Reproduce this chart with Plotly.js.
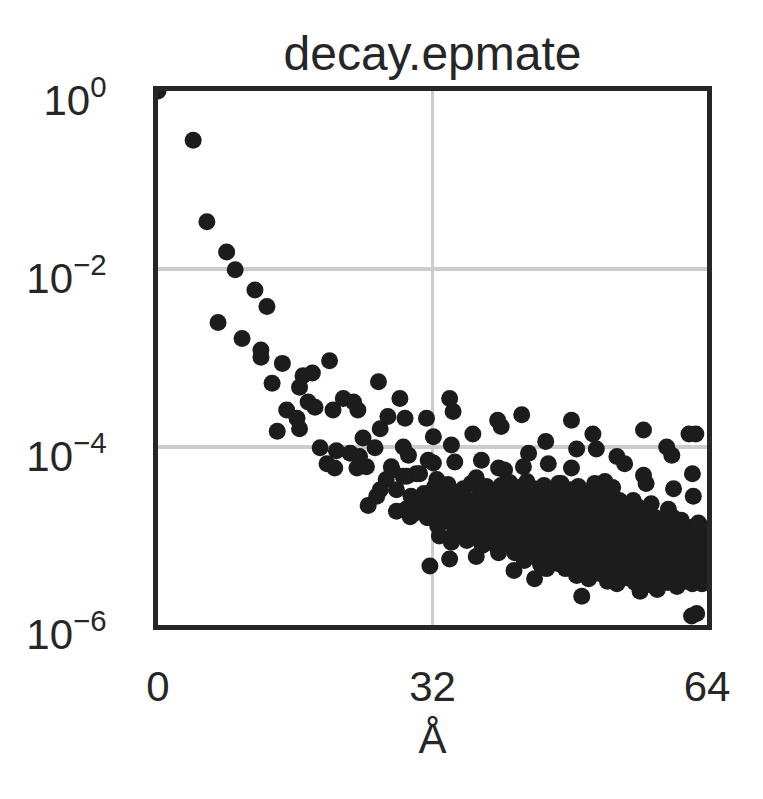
<!DOCTYPE html>
<html><head><meta charset="utf-8">
<script src="https://cdn.plot.ly/plotly-3.0.1.min.js"></script>
<style>html,body{margin:0;padding:0;background:#fff}#chart{width:763px;height:799px}</style>
</head><body><div id="chart"></div>
<script>
// Sparse / upper points: distance (Å) and decay value
const headDist = [
 0, 4.1, 5.7, 8.0, 9.0, 11.3, 12.7, 7.0, 9.8, 12.0,
 12.0, 14.5, 20.0, 13.3, 16.9, 18.0, 16.5, 17.5, 18.3, 15.0,
 16.2, 16.5, 13.9, 20.4, 21.6, 22.8, 23.3, 25.7, 28.2, 26.8,
 25.9, 28.8, 31.3, 34.0, 34.4, 32.1, 34.2, 36.7, 18.9, 20.8,
 22.4, 23.5, 23.9, 25.3, 19.7, 20.6, 23.2, 24.3, 28.6, 29.2,
 31.5, 27.2, 26.6, 25.9, 25.5, 30.1, 29.0, 32.5, 34.6, 37.1,
 34.2, 24.5, 27.8, 39.6, 40.0, 42.4, 48.2, 45.2, 50.7, 51.1,
 48.8, 43.2, 42.6, 53.5, 37.7, 39.7, 40.4, 45.5, 48.2, 46.7,
 50.9, 52.1, 53.5, 56.6, 61.9, 62.7, 54.4, 59.3, 59.9, 56.6,
 56.9, 62.3, 60.1, 62.4, 53.8, 55.4, 57.5, 59.5, 60.1, 62.4,
 31.7, 34.0, 37.1, 41.5, 43.9, 49.4, 39.7, 56.2, 62.8, 62.2,
 27.3, 27.8, 28.6, 30.5, 32.1, 29.4, 30.5, 31.7
];
const headDecay = [
 1.0, 0.28, 0.034, 0.0155, 0.0098, 0.0058, 0.0038, 0.0025, 0.00166, 0.00123,
 0.00102, 8.7e-4, 9.3e-4, 5.2e-4, 6.3e-4, 6.8e-4, 4.7e-4, 3.2e-4, 2.8e-4, 2.6e-4,
 2.1e-4, 1.6e-4, 1.5e-4, 2.6e-4, 3.5e-4, 3.2e-4, 2.6e-4, 5.4e-4, 3.5e-4, 2.2e-4,
 1.6e-4, 2.1e-4, 2.1e-4, 3.5e-4, 2.5e-4, 1.3e-4, 1.05e-4, 1.4e-4, 9.8e-5, 9.1e-5,
 8.5e-5, 7.8e-5, 1.26e-4, 9.8e-5, 6.5e-5, 5.8e-5, 5.8e-5, 6.0e-5, 1.0e-4, 8.1e-5,
 7.1e-5, 6.0e-5, 4.3e-5, 3.3e-5, 2.8e-5, 5.0e-5, 4.7e-5, 4.3e-5, 6.8e-5, 4.5e-5,
 3.0e-5, 2.2e-5, 1.9e-5, 2.0e-4, 1.7e-4, 2.3e-4, 2.0e-4, 1.15e-4, 1.4e-4, 9.5e-5,
 9.5e-5, 8.5e-5, 6.0e-5, 7.8e-5, 7.1e-5, 5.8e-5, 5.5e-5, 6.5e-5, 5.8e-5, 3.9e-5,
 3.9e-5, 4.1e-5, 2.4e-5, 1.55e-4, 1.4e-4, 1.4e-4, 6.5e-5, 1.0e-4, 8.1e-5, 4.8e-5,
 3.9e-5, 5.0e-5, 3.4e-5, 2.8e-5, 2.5e-5, 2.5e-5, 2.3e-5, 2.0e-5, 1.6e-5, 1.26e-5,
 4.6e-6, 5.5e-6, 5.9e-6, 4.1e-6, 3.3e-6, 2.1e-6, 6.5e-6, 2.4e-6, 1.35e-6, 1.26e-6,
 5.5e-5, 3.3e-5, 4.7e-5, 5.0e-5, 6.6e-5, 1.65e-5, 2.5e-5, 1.8e-5
];
// Dense tail points
const tailDist = [
 28.9, 29.9, 30.8, 31.4, 29.5, 31.0,
 32.2, 32.4, 32.3, 32.6, 32.8, 33.0, 33.1, 33.3,
 33.8, 34.0, 34.1, 34.3, 34.5, 34.2, 34.7, 34.9, 35.0, 35.2,
 35.6, 35.8, 35.9, 36.0, 36.2, 36.0, 36.5, 36.6, 36.8, 36.9, 37.0,
 37.5, 37.7, 37.6, 37.9, 38.0, 37.8, 38.3, 38.5, 38.4, 38.7, 38.6,
 39.1, 39.2, 39.4, 39.3, 39.6, 39.5, 40.0, 40.1, 40.3, 40.2, 40.5, 40.4,
 41.0, 41.1, 41.3, 41.2, 41.5, 41.4, 41.6, 42.0, 42.2, 42.1, 42.4, 42.3, 42.5, 42.7,
 43.0, 43.1, 43.3, 43.2, 43.5, 43.4, 43.6, 43.9, 44.1, 44.0, 44.3, 44.2, 44.4, 44.6,
 45.0, 45.1, 45.3, 45.2, 45.5, 45.4, 45.6, 45.3, 46.0, 46.2, 46.1, 46.3, 46.5, 46.4, 46.6,
 47.0, 47.1, 47.3, 47.2, 47.5, 47.4, 47.6, 47.5, 48.0, 48.2, 48.1, 48.3, 48.5, 48.4, 48.6, 48.8,
 49.0, 49.2, 49.1, 49.3, 49.5, 49.4, 49.6, 49.7, 50.0, 50.2, 50.1, 50.4, 50.3, 50.5, 50.6, 50.2,
 51.0, 51.2, 51.1, 51.3, 51.5, 51.4, 51.6, 51.5, 52.0, 52.2, 52.1, 52.4, 52.3, 52.5, 52.6, 52.4,
 53.0, 53.2, 53.1, 53.3, 53.5, 53.4, 53.6, 53.5, 54.0, 54.2, 54.1, 54.4, 54.3, 54.5, 54.6,
 55.0, 55.2, 55.1, 55.3, 55.5, 55.4, 55.6, 56.0, 56.2, 56.1, 56.4, 56.3, 56.5, 56.6,
 57.0, 57.2, 57.1, 57.3, 57.5, 57.4, 57.6, 58.0, 58.2, 58.1, 58.4, 58.3, 58.5, 58.2,
 59.0, 59.2, 59.1, 59.3, 59.5, 59.4, 60.0, 60.2, 60.1, 60.4, 60.3, 60.5,
 61.0, 61.2, 61.1, 61.3, 61.5, 61.4, 62.0, 62.2, 62.1, 62.4, 62.3,
 63.0, 63.2, 63.1, 63.3, 63.5, 63.4, 63.9, 63.8, 64.0, 63.9, 63.7
];
const tailDecay = [
 2.0e-5, 1.8e-5, 2.1e-5, 1.6e-5, 2.8e-5, 3.0e-5,
 3.5e-5, 2.5e-5, 1.8e-5, 1.3e-5, 1.0e-5, 2.9e-5, 2.0e-5, 1.45e-5,
 3.8e-5, 2.6e-5, 1.9e-5, 1.4e-5, 1.05e-5, 8.5e-6, 3.1e-5, 2.2e-5, 1.6e-5, 1.2e-5,
 3.4e-5, 2.7e-5, 2.0e-5, 1.5e-5, 1.1e-5, 8.9e-6, 3.9e-5, 2.4e-5, 1.75e-5, 1.3e-5, 9.5e-6,
 3.3e-5, 2.6e-5, 1.9e-5, 1.45e-5, 1.1e-5, 7.8e-6, 3.6e-5, 2.2e-5, 1.6e-5, 1.2e-5, 8.6e-6,
 3.0e-5, 2.4e-5, 1.8e-5, 1.35e-5, 1.0e-5, 7.5e-6, 3.7e-5, 2.7e-5, 2.0e-5, 1.5e-5, 1.1e-5, 8.0e-6,
 4.0e-5, 3.1e-5, 2.3e-5, 1.7e-5, 1.25e-5, 9.2e-6, 6.5e-6, 3.5e-5, 2.6e-5, 1.9e-5, 1.4e-5, 1.05e-5, 7.6e-6, 5.3e-6,
 4.1e-5, 2.9e-5, 2.1e-5, 1.55e-5, 1.15e-5, 8.5e-6, 6.0e-6, 3.4e-5, 2.4e-5, 1.75e-5, 1.3e-5, 9.6e-6, 7.0e-6, 4.8e-6,
 3.7e-5, 2.7e-5, 2.0e-5, 1.45e-5, 1.08e-5, 8.0e-6, 5.8e-6, 4.3e-6, 3.1e-5, 2.3e-5, 1.7e-5, 1.25e-5, 9.0e-6, 6.6e-6, 4.9e-6,
 3.9e-5, 2.8e-5, 2.1e-5, 1.5e-5, 1.1e-5, 8.2e-6, 6.0e-6, 4.3e-6, 3.3e-5, 2.5e-5, 1.8e-5, 1.3e-5, 9.4e-6, 6.8e-6, 5.0e-6, 3.6e-6,
 3.6e-5, 2.6e-5, 1.9e-5, 1.4e-5, 1.02e-5, 7.5e-6, 5.5e-6, 4.0e-6, 3.0e-5, 2.2e-5, 1.6e-5, 1.2e-5, 8.7e-6, 6.3e-6, 4.6e-6, 3.3e-6,
 3.4e-5, 2.5e-5, 1.8e-5, 1.35e-5, 9.8e-6, 7.1e-6, 5.2e-6, 3.8e-6, 2.9e-5, 2.1e-5, 1.55e-5, 1.15e-5, 8.3e-6, 6.0e-6, 4.3e-6, 3.1e-6,
 3.5e-5, 1.9e-5, 1.4e-5, 1.05e-5, 7.7e-6, 5.6e-6, 4.0e-6, 2.9e-6, 2.2e-5, 1.65e-5, 1.2e-5, 9.0e-6, 6.5e-6, 4.7e-6, 3.4e-6,
 1.9e-5, 1.4e-5, 1.05e-5, 7.8e-6, 5.7e-6, 4.2e-6, 3.0e-6, 2.1e-5, 1.55e-5, 1.15e-5, 8.5e-6, 6.2e-6, 4.5e-6, 3.3e-6,
 1.8e-5, 1.3e-5, 9.8e-6, 7.2e-6, 5.3e-6, 3.9e-6, 2.8e-6, 1.6e-5, 1.2e-5, 8.8e-6, 6.4e-6, 4.7e-6, 3.4e-6, 2.5e-6,
 1.45e-5, 1.05e-5, 7.8e-6, 5.7e-6, 4.2e-6, 3.0e-6, 1.3e-5, 9.4e-6, 6.9e-6, 5.0e-6, 3.7e-6, 2.7e-6,
 1.5e-5, 1.1e-5, 8.0e-6, 5.9e-6, 4.3e-6, 3.1e-6, 1.0e-5, 7.4e-6, 5.4e-6, 4.0e-6, 2.9e-6,
 1.4e-5, 1.0e-5, 7.5e-6, 5.5e-6, 4.0e-6, 2.9e-6, 1.2e-5, 8.5e-6, 6.0e-6, 4.4e-6, 3.2e-6
];
const xTickVals = [0, 32, 64];
const xTickText = ['0', '32', '64'];
const yTickVals = [1e-6, 1e-4, 1e-2, 1];
const yTickText = ['10<sup>\u22126</sup>', '10<sup>\u22124</sup>', '10<sup>\u22122</sup>', '10<sup>0</sup>'];

const FONT = 'Liberation Sans, Arial, Helvetica, sans-serif';
const INK = '#262626';

const trace = {
  type: 'scatter', mode: 'markers',
  x: headDist.concat(tailDist),
  y: headDecay.concat(tailDecay),
  marker: {color: '#1c1c1c', size: 17, line: {width: 0}},
  cliponaxis: true, hoverinfo: 'skip'
};

const layout = {
  width: 763, height: 799,
  margin: {l: 158, r: 56, t: 91, b: 174, pad: 0},
  paper_bgcolor: '#ffffff', plot_bgcolor: '#ffffff',
  font: {family: FONT, color: INK, size: 40},
  showlegend: false,
  title: {text: 'decay.epmate', x: 0.5, xref: 'paper', xanchor: 'center',
          y: 0.934, yref: 'container', yanchor: 'middle',
          font: {family: FONT, color: INK, size: 48}},
  xaxis: {
    range: [0, 64], tickmode: 'array', tickvals: xTickVals, ticktext: xTickText,
    showgrid: true, gridcolor: '#cccccc', gridwidth: 3.5,
    showline: true, linecolor: INK, linewidth: 5, mirror: true,
    zeroline: false, ticks: '', ticklabelstandoff: 21,
    tickfont: {family: FONT, color: INK, size: 42},
    title: {text: 'Å', font: {family: FONT, color: INK, size: 42}, standoff: 16}
  },
  yaxis: {
    type: 'log', range: [-6, 0], tickmode: 'array', tickvals: yTickVals, ticktext: yTickText,
    showgrid: true, gridcolor: '#cccccc', gridwidth: 3.5,
    showline: true, linecolor: INK, linewidth: 5, mirror: true,
    zeroline: false, ticks: '', ticklabelstandoff: 38, ticklabelshift: 9,
    tickfont: {family: FONT, color: INK, size: 42}
  }
};

Plotly.newPlot('chart', [trace], layout, {staticPlot: true, displayModeBar: false});
</script></body></html>
